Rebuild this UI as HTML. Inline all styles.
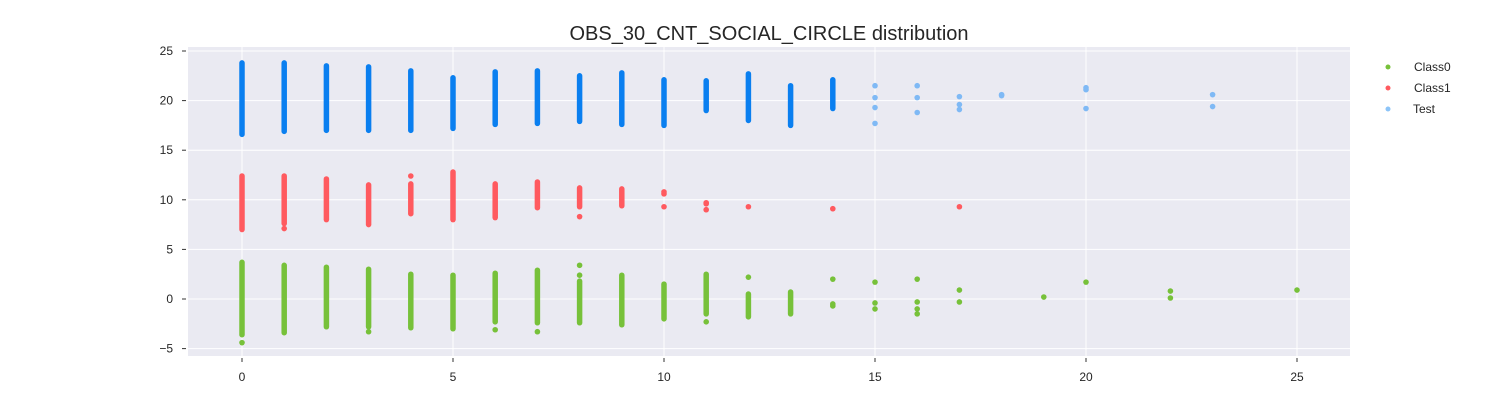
<!DOCTYPE html>
<html><head><meta charset="utf-8"><style>
body{margin:0;background:#fff;}
svg{font-family:"Liberation Sans",sans-serif;}
</style></head><body>
<svg width="1500" height="400">
<text x="769" y="40" text-anchor="middle" font-size="20" fill="#262626">OBS_30_CNT_SOCIAL_CIRCLE distribution</text>
<rect x="188" y="47" width="1162" height="309" fill="#eaeaf2"/>
<g id="grid"></g><g id="marks"></g><g id="ticks"></g>
<g>
<circle cx="1388" cy="67" r="2.5" fill="#77c13a"/>
<text x="1414" y="71" font-size="12" fill="#262626">Class0</text>
<circle cx="1388" cy="88" r="2.5" fill="#ff5a5f"/>
<text x="1414" y="92" font-size="12" fill="#262626">Class1</text>
<circle cx="1388" cy="109" r="2.5" fill="#8cc4f8"/>
<text x="1413" y="113" font-size="12" fill="#262626">Test</text>
</g>
</svg>
<script>
const xTicks=[0,5,10,15,20,25];
const yTicks=[-5,0,5,10,15,20,25];
// ranges: [x, ymin, ymax]
const testRanges=[[0,16.6,23.8],[1,16.9,23.8],[2,17.0,23.5],[3,17.0,23.4],[4,17.0,23.0],[5,17.2,22.3],[6,17.6,22.9],[7,17.7,23.0],[8,17.9,22.5],[9,17.6,22.8],[10,17.5,22.1],[11,19.0,22.0],[12,18.0,22.7],[13,17.5,21.5],[14,19.2,22.1]];
const testPoints=[[15,17.7],[15,19.3],[15,20.3],[15,21.5],[16,18.8],[16,20.3],[16,21.5],[17,19.1],[17,19.6],[17,20.4],[18,20.5],[18,20.6],[20,19.2],[20,21.1],[20,21.3],[23,19.4],[23,20.6]];
const class1Ranges=[[0,7.0,12.4],[1,7.6,12.4],[2,8.0,12.1],[3,7.5,11.5],[4,8.6,11.6],[5,8.0,12.8],[6,8.2,11.6],[7,9.2,11.8],[8,9.3,11.2],[9,9.4,11.1]];
const class1Points=[[1,7.1],[4,12.4],[8,8.3],[10,9.3],[10,10.6],[10,10.8],[11,9.0],[11,9.6],[11,9.7],[12,9.3],[14,9.1],[17,9.3]];
const class0Ranges=[[0,-3.6,3.7],[1,-3.4,3.4],[2,-2.8,3.2],[3,-2.8,3.0],[4,-2.9,2.5],[5,-3.0,2.4],[6,-2.3,2.6],[7,-2.4,2.9],[8,-2.4,1.8],[9,-2.6,2.4],[10,-2.0,1.5],[11,-1.5,2.5],[12,-1.8,0.5],[13,-1.5,0.7]];
const class0Points=[[0,-4.4],[3,-3.3],[6,-3.1],[7,-3.3],[8,2.4],[8,3.4],[11,-2.3],[12,2.2],[14,-0.7],[14,-0.5],[14,2.0],[15,-1.0],[15,-0.4],[15,1.7],[16,-1.5],[16,-1.0],[16,-0.3],[16,2.0],[17,-0.3],[17,0.9],[19,0.2],[20,1.7],[22,0.1],[22,0.8],[25,0.9]];
const X=v=>242+v*42.2;
const Y=v=>299-v*9.92;
const NS="http://www.w3.org/2000/svg";
function mk(t,a,p){const e=document.createElementNS(NS,t);for(const k in a)e.setAttribute(k,a[k]);p.appendChild(e);return e;}
const grid=document.getElementById('grid'),ticks=document.getElementById('ticks'),marks=document.getElementById('marks');
xTicks.forEach(v=>{
 const l=mk('line',{x1:X(v),x2:X(v),y1:47,y2:356,stroke:'#fff','stroke-width':1},grid);
 
 
 mk('line',{x1:X(v),x2:X(v),y1:358,y2:362,stroke:'#333'},ticks);
 const t=mk('text',{x:X(v),y:381,'text-anchor':'middle','font-size':12,fill:'#262626'},ticks);
 t.textContent=v;
 
 
});
yTicks.forEach(v=>{
 const l=mk('line',{x1:188,x2:1350,y1:Y(v),y2:Y(v),stroke:'#fff','stroke-width':1},grid);
 
 
 mk('line',{x1:182,x2:186,y1:Y(v),y2:Y(v),stroke:'#333'},ticks);
 const t=mk('text',{x:173,y:Y(v)+4,'text-anchor':'end','font-size':12,fill:'#262626'},ticks);
 t.textContent=v<0?'\u2212'+(-v):v;
 
 
});
function series(ranges,points,col,dense,name){
 ranges.forEach(r=>{
  const l=mk('line',{x1:X(r[0]),x2:X(r[0]),y1:Y(r[1]),y2:Y(r[2]),stroke:dense,'stroke-width':5.5,'stroke-linecap':'round'},marks);
  
  
 });
 points.forEach(p=>{
  const c=mk('circle',{cx:X(p[0]),cy:Y(p[1]),r:2.8,fill:col},marks);
  
  
 });
}
series(class0Ranges,class0Points,'#77c13a','#77c13a','class0');
series(class1Ranges,class1Points,'#ff5a5f','#ff5a5f','class1');
series(testRanges,testPoints,'#7fb9f5','#0a7ff0','test');
</script>
</body></html>
